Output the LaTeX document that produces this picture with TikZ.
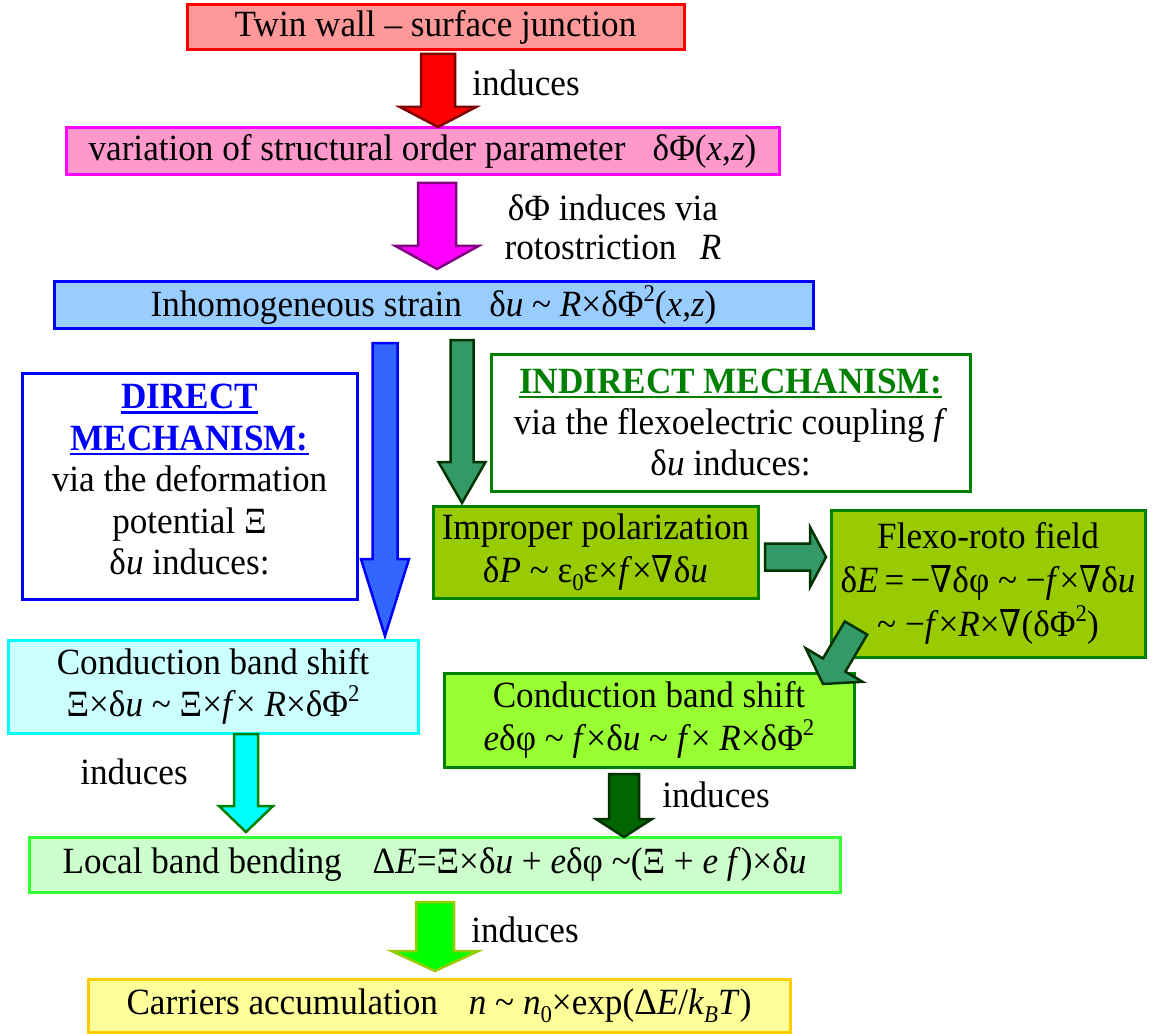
\documentclass[tikz,border=0pt]{standalone}
\usepackage{fontspec}
\setmainfont{Liberation Serif}[FakeStretch=0.95]
\newfontfamily\symf{DejaVu Serif}[FakeStretch=0.85]
\usetikzlibrary{calc}
\definecolor{cRedF}{HTML}{FF9999}
\definecolor{cRedD}{HTML}{FF0000}
\definecolor{cPinkF}{HTML}{FF99CC}
\definecolor{cMag}{HTML}{FF00FF}
\definecolor{cBlueF}{HTML}{99CCFF}
\definecolor{cBlue}{HTML}{0000FF}
\definecolor{cGreen}{HTML}{008000}
\definecolor{cOlive}{HTML}{99CC00}
\definecolor{cLime}{HTML}{99FF33}
\definecolor{cCyanF}{HTML}{CCFFFF}
\definecolor{cCyan}{HTML}{00FFFF}
\definecolor{cMintF}{HTML}{CCFFCC}
\definecolor{cBright}{HTML}{33FF33}
\definecolor{cYelF}{HTML}{FFFF99}
\definecolor{cGold}{HTML}{FFCC00}
\definecolor{aRedD}{HTML}{800000}
\definecolor{aMagD}{HTML}{800080}
\definecolor{aBlue}{HTML}{3366FF}
\definecolor{aSea}{HTML}{339966}
\definecolor{aSeaD}{HTML}{003300}
\definecolor{aDk}{HTML}{006600}
\definecolor{aGreen}{HTML}{00FF00}
\newcommand\simm{\textasciitilde}
\newcommand\nab{{\symf ∇}}
\newcommand\sups[1]{\raisebox{0.42em}{\fontsize{24}{24}\selectfont #1}}
\newcommand\subs[1]{\raisebox{-0.22em}{\fontsize{24}{24}\selectfont #1}}
\newcommand\myul[1]{\setbox0=\hbox{#1}\leavevmode\rlap{\rule[-5pt]{\wd0}{2.5pt}}\box0}
\newcommand\blockarrow[6]{%
  \path let \p1=(#2), \p2=(#3) in \pgfextra{%
    \pgfmathsetmacro\baang{atan2((\y2)-(\y1),(\x2)-(\x1))}%
    \pgfmathsetmacro\balen{veclen((\x2)-(\x1),(\y2)-(\y1))}%
    \xdef\baang{\baang}\xdef\balen{\balen}%
    \xdef\bax{\x1}\xdef\bay{\y1}};
  \draw[#1,shift={(\bax,\bay)},rotate=\baang]
    (0pt,#4pt) -- ({\balen pt-#6pt},#4pt) -- ({\balen pt-#6pt},#5pt) -- (\balen pt,0pt)
    -- ({\balen pt-#6pt},-#5pt) -- ({\balen pt-#6pt},-#4pt) -- (0pt,-#4pt) -- cycle;
}
\begin{document}
\begin{tikzpicture}[x=1pt,y=-1pt,
  every node/.style={font=\fontsize{37}{42}\selectfont},
  box/.style={draw, line width=3pt, inner sep=0pt, align=center},
  lbl/.style={inner sep=0pt, align=center},
  arr/.style={line width=2.5pt, line join=miter}]
\useasboundingbox (0,0) rectangle (1152,1035);
% boxes
\node[box, fill=cRedF, draw=cRedD, minimum width=497, minimum height=45] (twin) at (435.5,27.5) {Twin wall -- surface junction};
\node[box, fill=cPinkF, draw=cMag, minimum width=713, minimum height=47] (var) at (422.5,151.5) {variation of structural order parameter\hspace{0.5em} δΦ(\textit{x},\textit{z})};
\node[box, fill=cBlueF, draw=cBlue, minimum width=759, minimum height=46] (strain) at (433.5,305) {Inhomogeneous strain\hspace{0.5em} δ\textit{u} \simm\ \textit{R}×δΦ\sups{2}(\textit{x},\textit{z})};
\node[box, fill=white, draw=cBlue, minimum width=335, minimum height=226] (direct) at (189.5,486) {};
\node[lbl, font=\fontsize{37}{41.5}\selectfont] (directtxt) at (189.5,480) {{\color{cBlue}\textbf{\myul{DIRECT}}}\\{\color{cBlue}\textbf{\myul{MECHANISM:}}}\\via the deformation\\potential Ξ\\δ\textit{u} induces:};
\node[box, fill=white, draw=cGreen, minimum width=479, minimum height=137, font=\fontsize{37}{41}\selectfont] (indirect) at (730.5,422.5) {{\color{cGreen}\textbf{\myul{INDIRECT MECHANISM:}}}\\via the flexoelectric coupling \textit{f}\\δ\textit{u} induces:};
\node[box, fill=cOlive, draw=cGreen, minimum width=325, minimum height=92, font=\fontsize{37}{43}\selectfont] (improper) at (595.5,552) {Improper polarization\\δ\textit{P} \simm\ ε\subs{0}ε×\textit{f}×\nab δ\textit{u}};
\node[box, fill=cOlive, draw=cGreen, minimum width=314, minimum height=147, font=\fontsize{37}{44}\selectfont] (flexo) at (988,583.5) {Flexo-roto field\\δ\textit{E}\,=\,−\nab δφ \simm\ −\textit{f}×\nab δ\textit{u}\\\simm\ −\textit{f}×\textit{R}×\nab(δΦ\sups{2})};
\node[box, fill=cCyanF, draw=cCyan, minimum width=410, minimum height=93, font=\fontsize{37}{42}\selectfont] (cbsL) at (213,686.5) {Conduction band shift\\Ξ×δ\textit{u} \simm\ Ξ×\textit{f}× \textit{R}×δΦ\sups{2}};
\node[box, fill=cLime, draw=cGreen, minimum width=410, minimum height=94, font=\fontsize{37}{43}\selectfont] (cbsR) at (649,720) {Conduction band shift\\\textit{e}δφ \simm\ \textit{f}×δ\textit{u} \simm\ \textit{f}× \textit{R}×δΦ\sups{2}};
\node[box, fill=cMintF, draw=cBright, minimum width=811, minimum height=55] (local) at (434.5,864.5) {Local band bending\hspace{0.6em} Δ\textit{E}=Ξ×δ\textit{u} + \textit{e}δφ \simm(Ξ + \textit{e f})×δ\textit{u}};
\node[box, fill=cYelF, draw=cGold, minimum width=702, minimum height=53] (carriers) at (439,1005.5) {Carriers accumulation\hspace{0.6em} \textit{n} \simm\ \textit{n}\subs{0}×exp(Δ\textit{E}/\textit{k}\subs{\textit{B}}\textit{T})};
% labels
\node[lbl] (l1) at (526,83) {induces};
\node[lbl, font=\fontsize{37}{39}\selectfont] (l2) at (613,227) {δΦ induces via\\rotostriction\hspace{0.4em} \textit{R}};
\node[lbl] (l3) at (134,772) {induces};
\node[lbl] (l4) at (716,795) {induces};
\node[lbl] (l5) at (525,930) {induces};
% arrow end points
\coordinate (a1s) at (438,54);  \coordinate (a1e) at (438,127);
\coordinate (a2s) at (437,183); \coordinate (a2e) at (437,269);
\coordinate (a3s) at (385,343); \coordinate (a3e) at (385,636);
\coordinate (a4s) at (462,340); \coordinate (a4e) at (462,503);
\coordinate (a5s) at (765,557); \coordinate (a5e) at (826,557);
\coordinate (a6s) at (856,628); \coordinate (a6e) at (823,684);
\coordinate (a7s) at (246,734); \coordinate (a7e) at (246,832);
\coordinate (a8s) at (624,774); \coordinate (a8e) at (624,837);
\coordinate (a9s) at (435,902); \coordinate (a9e) at (435,971);
\blockarrow{arr, fill=cRedD, draw=aRedD}{a1s}{a1e}{17}{38}{20}
\blockarrow{arr, fill=cMag, draw=aMagD}{a2s}{a2e}{19}{41.5}{23}
\blockarrow{arr, fill=aBlue, draw=cBlue}{a3s}{a3e}{12.5}{24}{77}
\blockarrow{arr, fill=aSea, draw=aSeaD}{a4s}{a4e}{11.5}{23.5}{41}
\blockarrow{arr, fill=aSea, draw=aSeaD}{a5s}{a5e}{13.5}{30}{16}
\blockarrow{arr, fill=aSea, draw=aSeaD}{a6s}{a6e}{13}{33}{22}
\blockarrow{arr, fill=cCyan, draw=cGreen}{a7s}{a7e}{12}{27}{26}
\blockarrow{arr, fill=aDk, draw=aSeaD}{a8s}{a8e}{15}{28}{18}
\blockarrow{arr, fill=aGreen, draw=cOlive}{a9s}{a9e}{19}{43.5}{20}
\end{tikzpicture}
\end{document}
